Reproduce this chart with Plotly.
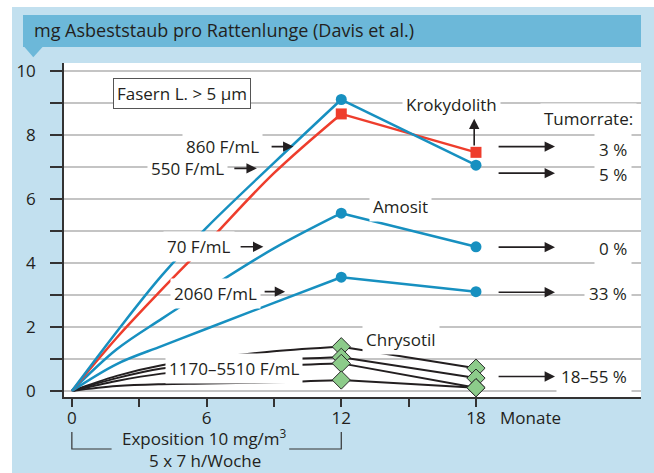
import plotly.graph_objects as go

# ---------------- data ----------------
rise_months = [0, 2, 4, 6, 9, 12]
decline_months = [12, 18]

kroky_blue_rise = [0, 1.85, 3.6, 5.1, 7.12, 9.1]
kroky_blue_decline = [9.1, 7.05]
kroky_red_rise = [0, 1.66, 3.16, 4.6, 6.8, 8.65]
kroky_red_decline = [8.65, 7.45]
amosit_rise = [0, 1.3, 2.25, 3.15, 4.45, 5.55]
amosit_decline = [5.55, 4.5]
amosit2060_rise = [0, 0.84, 1.4, 1.94, 2.75, 3.55]
amosit2060_decline = [3.55, 3.1]
chrysotil_rise = [
    [0, 0.47, 0.80, 1.00, 1.24, 1.38],
    [0, 0.40, 0.70, 0.83, 0.97, 1.05],
    [0, 0.31, 0.54, 0.67, 0.79, 0.86],
    [0, 0.15, 0.21, 0.23, 0.27, 0.34],
]
chrysotil_decline = [[1.38, 0.71], [1.05, 0.40], [0.86, 0.10], [0.34, 0.10]]

dose_labels = ["860 F/mL", "550 F/mL", "70 F/mL", "2060 F/mL", "1170–5510 F/mL"]
dose_label_x = [8.52, 6.96, 7.27, 8.43, 10.3]
dose_label_y = [7.63, 6.95, 4.5, 3.05, 0.71]
dose_arrow_x0 = [8.83, 7.17, 7.45, 8.52]
dose_arrow_x1 = [9.87, 8.24, 8.53, 9.50]
dose_arrow_y = [7.63, 6.95, 4.5, 3.1]

tumor_labels = ["3 %", "5 %", "0 %", "33 %", "18–55 %"]
tumor_label_y = [7.55, 6.77, 4.45, 3.05, 0.45]
tumor_arrow_y = [7.63, 6.8, 4.49, 3.08, 0.45]

y_tickvals = list(range(0, 11))
y_ticktext = ["0", "", "2", "", "4", "", "6", "", "8", "", "10"]
x_tickvals = [0, 3, 6, 9, 12, 15, 18]
x_ticktext = ["0", "", "6", "", "12", "", "18"]

# ---------------- style ----------------
BLUE = "#1790c0"
RED = "#ee3d2c"
BLACK = "#231f20"
GREEN = "#8ccb8a"
FONT = "Open Sans"
TXT = "#231f20"

fig = go.Figure()

for rise, dec in zip(chrysotil_rise, chrysotil_decline):
    fig.add_trace(go.Scatter(x=rise_months, y=rise, mode="lines",
                             line=dict(color=BLACK, width=2, shape="spline")))
    fig.add_trace(go.Scatter(x=decline_months, y=dec, mode="lines+markers",
                             line=dict(color=BLACK, width=2),
                             marker=dict(symbol="diamond", size=14, color=GREEN,
                                         line=dict(color="#2a2a2a", width=1))))

for rise, dec, col, sym, sz in [
    (amosit2060_rise, amosit2060_decline, BLUE, "circle", 11),
    (amosit_rise, amosit_decline, BLUE, "circle", 11),
    (kroky_red_rise, kroky_red_decline, RED, "square", 11),
    (kroky_blue_rise, kroky_blue_decline, BLUE, "circle", 11),
]:
    fig.add_trace(go.Scatter(x=rise_months, y=rise, mode="lines",
                             line=dict(color=col, width=2.5, shape="spline")))
    fig.add_trace(go.Scatter(x=decline_months, y=dec, mode="lines+markers",
                             line=dict(color=col, width=2.5),
                             marker=dict(symbol=sym, size=sz, color=col)))

ann = []
# dose labels
for t, x, y in zip(dose_labels, dose_label_x, dose_label_y):
    ann.append(dict(x=x, y=y, text=t, showarrow=False, xanchor="right", yanchor="middle",
                    bgcolor="white", borderpad=3, font=dict(family=FONT, size=17, color=TXT)))
for x0, x1, y in zip(dose_arrow_x0, dose_arrow_x1, dose_arrow_y):
    ann.append(dict(x=x1, y=y, ax=x0, ay=y, axref="x", ayref="y", text="", showarrow=True,
                    arrowhead=2, arrowsize=1.3, arrowwidth=1.6, arrowcolor=BLACK))
# tumor rates
for t, y in zip(tumor_labels, tumor_label_y):
    ann.append(dict(x=24.95, y=y, text=t, showarrow=False, xanchor="right", yanchor="middle",
                    bgcolor="white", borderpad=4, font=dict(family=FONT, size=17, color=TXT)))
for y in tumor_arrow_y:
    ann.append(dict(x=21.52, y=y, ax=18.94, ay=y, axref="x", ayref="y", text="", showarrow=True,
                    arrowhead=2, arrowsize=1.3, arrowwidth=1.6, arrowcolor=BLACK))
ann.append(dict(x=25.15, y=8.51, text="Tumorrate:", showarrow=False, xanchor="right",
                yanchor="middle", bgcolor="white", borderpad=3,
                font=dict(family=FONT, size=17, color=TXT)))
# fiber names
for t, x, y in [("Krokydolith", 16.9, 8.93), ("Amosit", 14.66, 5.75), ("Chrysotil", 14.68, 1.62)]:
    ann.append(dict(x=x, y=y, text=t, showarrow=False, xanchor="center", yanchor="middle",
                    bgcolor="white", borderpad=3, font=dict(family=FONT, size=17, color=TXT)))
# up arrow Krokydolith
ann.append(dict(x=17.92, y=8.5, ax=17.92, ay=7.62, axref="x", ayref="y", text="", showarrow=True,
                arrowhead=2, arrowsize=1.3, arrowwidth=1.6, arrowcolor=BLACK))
# Fasern box
ann.append(dict(x=4.89, y=9.29, text="Fasern L. > 5 µm", showarrow=False, xanchor="center",
                yanchor="middle", bgcolor="white", bordercolor="#555555", borderwidth=1,
                borderpad=3, font=dict(family=FONT, size=17, color=TXT)))
# Monate
ann.append(dict(x=19.0, y=-0.06, xref="x", yref="paper", text="Monate", showarrow=False,
                xanchor="left", yanchor="middle", font=dict(family=FONT, size=17, color=TXT)))
# exposition
ann.append(dict(x=5.9, y=-0.122, xref="x", yref="paper", text="Exposition 10 mg/m<sup>3</sup>",
                showarrow=False, xanchor="center", yanchor="middle",
                font=dict(family=FONT, size=17, color=TXT)))
ann.append(dict(x=5.93, y=-0.19, xref="x", yref="paper", text="5 x 7 h/Woche",
                showarrow=False, xanchor="center", yanchor="middle",
                font=dict(family=FONT, size=17, color=TXT)))
# title
ann.append(dict(x=-0.0555, y=1.098, xref="paper", yref="paper",
                text="mg Asbeststaub pro Rattenlunge (Davis et al.)", showarrow=False,
                xanchor="left", yanchor="middle", font=dict(family=FONT, size=18, color=TXT)))

def px_x(p):
    return (p - 64) / 577.0

def px_y(p):
    return (397 - p) / 334.0

shapes = [
    # white page margins
    dict(type="rect", xref="paper", yref="paper", x0=px_x(0), x1=px_x(654), y0=px_y(7), y1=px_y(0),
         fillcolor="white", line_width=0, layer="below"),
    dict(type="rect", xref="paper", yref="paper", x0=px_x(0), x1=px_x(12), y0=px_y(473), y1=px_y(0),
         fillcolor="white", line_width=0, layer="below"),
    # title bar
    dict(type="rect", xref="paper", yref="paper", x0=px_x(23), x1=px_x(641), y0=px_y(47), y1=px_y(15),
         fillcolor="#6cb8d9", line_width=0),
    dict(type="path", xref="paper", yref="paper",
         path=f"M {px_x(24)},{px_y(46.5)} L {px_x(43)},{px_y(46.5)} L {px_x(33.3)},{px_y(57.3)} Z",
         fillcolor="#6cb8d9", line_width=0),
    # bracket
    dict(type="path", xref="x", yref="paper",
         path=f"M 0,{px_y(432)} L 0,{px_y(449)} L 1.77,{px_y(449)}",
         line=dict(color="#333333", width=1.2)),
    dict(type="path", xref="x", yref="paper",
         path=f"M 9.68,{px_y(449)} L 12,{px_y(449)} L 12,{px_y(432)}",
         line=dict(color="#333333", width=1.2)),
]

fig.update_layout(
    width=654, height=473, autosize=False,
    margin=dict(l=64, r=13, t=63, b=76),
    paper_bgcolor="#c2e0ef", plot_bgcolor="white",
    showlegend=False,
    annotations=ann, shapes=shapes,
    font=dict(family=FONT, size=16, color=TXT),
    xaxis=dict(range=[-0.35, 25.35], tickvals=x_tickvals, ticktext=x_ticktext,
               showgrid=False, zeroline=False, showline=True, linecolor="#333333", linewidth=1.5,
               ticks="outside", ticklen=8, tickwidth=1.5, tickcolor="#333333",
               ticklabelstandoff=-3,
               tickfont=dict(family=FONT, size=17, color=TXT)),
    yaxis=dict(range=[-0.19, 10.24], tickvals=y_tickvals, ticktext=y_ticktext,
               showgrid=True, gridcolor="#c4c4c4", gridwidth=1.5, zeroline=False,
               showline=True, linecolor="#333333", linewidth=1.5,
               ticks="outside", ticklen=12, tickwidth=1.5, tickcolor="#333333",
               ticklabelstandoff=11,
               tickfont=dict(family=FONT, size=17, color=TXT)),
)

fig.write_html("out.html", config={"displayModeBar": False},
               post_script="document.body.style.margin='0';document.body.style.padding='0';")
